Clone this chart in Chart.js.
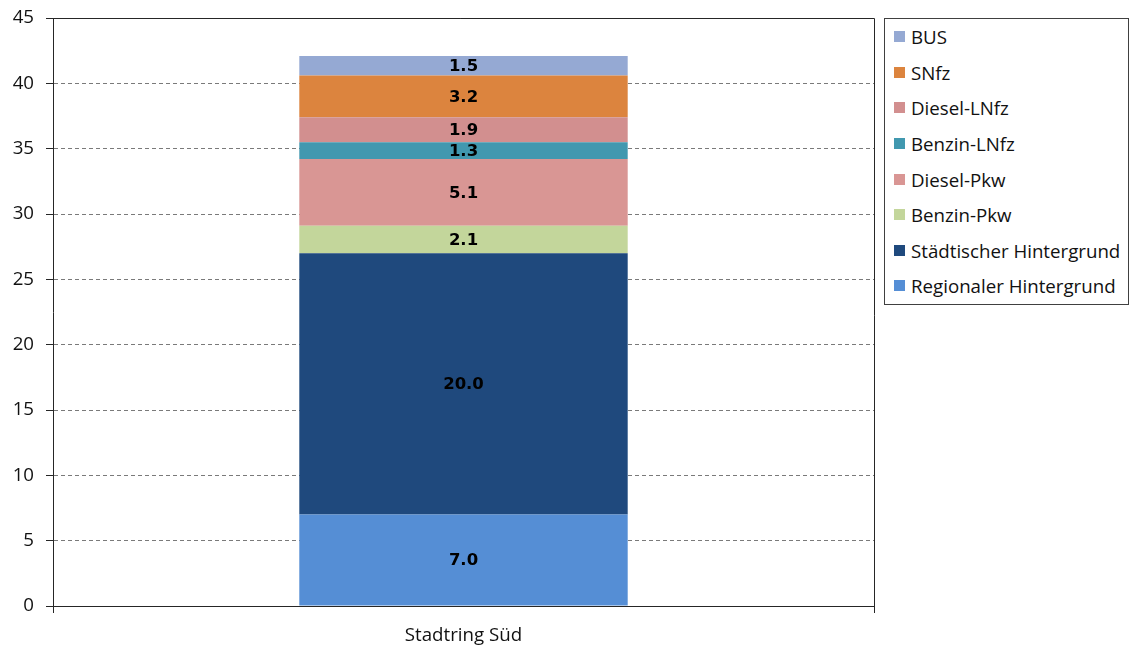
<!DOCTYPE html>
<html>
<head>
<meta charset="utf-8">
<script src="https://cdn.jsdelivr.net/npm/chart.js@4"></script>
<style>
  html, body { margin: 0; padding: 0; background: #fff; }
  #wrap { position: relative; width: 1135px; height: 646px; }
  #legend {
    position: absolute; left: 884px; top: 18px; width: 245px; height: 287px;
    box-sizing: border-box; border: 1px solid #404040; background: #fff;
    font-family: "Open Sans", sans-serif; font-size: 18.7px; color: #111;
  }
  .item { height: 35.6px; display: flex; align-items: center; padding-left: 9px; white-space: nowrap; }
  .sw { width: 11px; height: 11px; margin-right: 6px; flex: none; }
</style>
</head>
<body>
<div id="wrap">
  <canvas id="c" width="1135" height="646"></canvas>
  <div id="legend"></div>
</div>
<script>
const categories = ["Stadtring Süd"];
const seriesNames = ["Regionaler Hintergrund", "Städtischer Hintergrund", "Benzin-Pkw", "Diesel-Pkw", "Benzin-LNfz", "Diesel-LNfz", "SNfz", "BUS"];
const regionalerHintergrund = [7.0];
const staedtischerHintergrund = [20.0];
const benzinPkw = [2.1];
const dieselPkw = [5.1];
const benzinLNfz = [1.3];
const dieselLNfz = [1.9];
const sNfz = [3.2];
const bus = [1.5];
const seriesColors = ["#558ED5", "#1F497D", "#C3D69B", "#D99694", "#4198AF", "#D28F8F", "#DC843E", "#95A9D3"];
const yTicks = [0, 5, 10, 15, 20, 25, 30, 35, 40, 45];

const seriesValues = [regionalerHintergrund, staedtischerHintergrund, benzinPkw, dieselPkw, benzinLNfz, dieselLNfz, sNfz, bus];
const datasets = seriesNames.map((name, i) => ({
  label: name,
  data: seriesValues[i],
  backgroundColor: seriesColors[i],
  borderWidth: 0,
  categoryPercentage: 1.0,
  barPercentage: 0.4
}));

const AXIS = "#262626";

const valueLabels = {
  id: "valueLabels",
  afterDatasetsDraw(chart) {
    const ctx = chart.ctx;
    ctx.save();
    ctx.font = "bold 16.5px 'DejaVu Sans', sans-serif";
    ctx.fillStyle = "#000";
    ctx.textAlign = "center";
    ctx.textBaseline = "middle";
    chart.data.datasets.forEach((ds, i) => {
      const meta = chart.getDatasetMeta(i);
      meta.data.forEach((bar, j) => {
        const p = bar.getProps(["x", "y", "base"], true);
        ctx.fillText(ds.data[j].toFixed(1), p.x, (p.y + p.base) / 2 + 1);
      });
    });
    ctx.restore();
  }
};

const frame = {
  id: "frame",
  afterDraw(chart) {
    const a = chart.chartArea;
    const ctx = chart.ctx;
    ctx.save();
    ctx.strokeStyle = AXIS;
    ctx.lineWidth = 1;
    ctx.beginPath();
    ctx.moveTo(Math.round(a.left) - 7, Math.round(a.top) + 0.5);
    ctx.lineTo(Math.round(a.right) + 0.5, Math.round(a.top) + 0.5);
    ctx.lineTo(Math.round(a.right) + 0.5, Math.round(a.bottom) + 7);
    ctx.stroke();
    ctx.restore();
  }
};

const chart = new Chart(document.getElementById("c"), {
  type: "bar",
  data: { labels: categories, datasets },
  options: {
    responsive: false,
    animation: false,
    layout: { padding: { left: 0, top: 18, right: 261, bottom: 0 } },
    plugins: { legend: { display: false }, tooltip: { enabled: false } },
    scales: {
      x: {
        stacked: true,
        grid: { display: true, drawOnChartArea: false, offset: true, tickLength: 7, color: AXIS, tickColor: AXIS },
        border: { display: true, color: AXIS, width: 1 },
        ticks: { color: "#111", font: { family: "'Open Sans', sans-serif", size: 18.7 }, padding: 11 },
        afterFit(s) { s.height = 40; s.paddingLeft = 0; s.paddingRight = 0; }
      },
      y: {
        stacked: true,
        min: 0, max: 45,
        afterBuildTicks(s) { s.ticks = yTicks.map(v => ({ value: v })); },
        grid: {
          color: "#7a7a7a", lineWidth: 1, tickLength: 7, tickColor: AXIS,
          drawTicks: true
        },
        border: { display: true, color: AXIS, width: 1, dash: [4, 3] },
        ticks: { color: "#111", font: { family: "'Open Sans', sans-serif", size: 18.7 }, padding: 12 },
        afterFit(s) { s.width = 53; s.paddingTop = 0; s.paddingBottom = 0; }
      }
    }
  },
  plugins: [valueLabels, frame]
});

// HTML legend built from the chart's own dataset list (reversed order like the reference)
const legendEl = document.getElementById("legend");
chart.data.datasets.slice().reverse().forEach(ds => {
  const row = document.createElement("div");
  row.className = "item";
  const sw = document.createElement("span");
  sw.className = "sw";
  sw.style.background = ds.backgroundColor;
  const tx = document.createElement("span");
  tx.textContent = ds.label;
  row.appendChild(sw);
  row.appendChild(tx);
  legendEl.appendChild(row);
});
</script>
</body>
</html>
